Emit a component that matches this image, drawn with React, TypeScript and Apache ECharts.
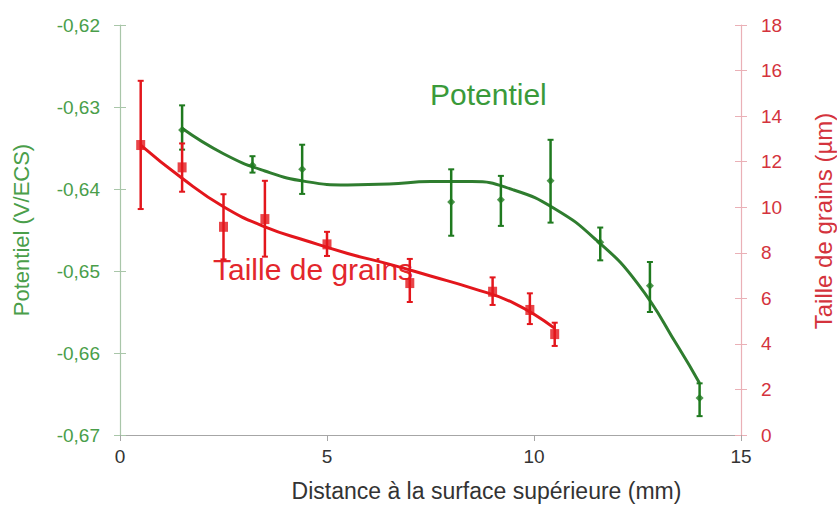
import React, { useEffect, useRef } from "react";
import * as echarts from "echarts";

// Potential (V/ECS) measurements: x (mm), value, low, high
const potX = [1.5, 3.2, 4.4, 8.0, 9.2, 10.4, 11.6, 12.8, 14.0];
const potVal = [-0.6328, -0.6371, -0.6376, -0.6416, -0.6413, -0.639, -0.6465, -0.6518, -0.6655];
const potLow = [-0.6352, -0.638, -0.6406, -0.6457, -0.6445, -0.6441, -0.6487, -0.655, -0.6677];
const potHigh = [-0.6298, -0.636, -0.6346, -0.6376, -0.6384, -0.634, -0.6447, -0.6489, -0.6637];

// Potential trend curve
const potFitX = [1.5, 2.5, 3.5, 4.5, 5.5, 6.5, 7.5, 8.5, 9.5, 10.5, 11.5, 12.5, 13.5, 14.0];
const potFitY = [-0.6326, -0.6357, -0.6378, -0.6391, -0.6395, -0.6394, -0.6391, -0.6391, -0.6401, -0.6424, -0.6462, -0.6515, -0.6594, -0.6637];

// Grain size (µm) measurements
const grainX = [0.5, 1.5, 2.5, 3.5, 5.0, 7.0, 9.0, 9.9, 10.5];
const grainVal = [12.73, 11.75, 9.14, 9.48, 8.37, 6.67, 6.29, 5.49, 4.43];
const grainLow = [9.92, 10.68, 7.71, 7.83, 7.86, 5.84, 5.71, 4.87, 3.91];
const grainHigh = [15.55, 12.8, 10.57, 11.16, 8.92, 7.73, 6.92, 6.22, 4.93];

// Grain size trend curve
const grainFitX = [0.5, 1.5, 2.5, 3.5, 4.5, 5.5, 6.5, 7.5, 8.5, 9.5, 10.5];
const grainFitY = [12.73, 11.27, 10.02, 9.14, 8.53, 7.97, 7.5, 6.98, 6.45, 5.8, 4.68];

// Axis ticks
const xTicks = { min: 0, max: 15, interval: 5 };
const leftTicks = { min: -0.67, max: -0.62, interval: 0.01 };
const rightTicks = { min: 0, max: 18, interval: 2 };

const FONT = "'Liberation Sans', Arial, sans-serif";
const GREEN = "#2f7d2f";
const GREEN_LABEL = "#4a9e4a";
const RED = "#e3161c";
const RED_LABEL = "#d4333d";

function errorBarRender(color: string) {
  return (params: any, api: any) => {
    const x = api.value(0);
    const lo = api.value(1);
    const hi = api.value(2);
    const pHi = api.coord([x, hi]);
    const pLo = api.coord([x, lo]);
    const cap = 3;
    const st = { stroke: color, lineWidth: 2.5 };
    return {
      type: "group",
      children: [
        { type: "line", shape: { x1: pHi[0], y1: pHi[1], x2: pLo[0], y2: pLo[1] }, style: st },
        { type: "line", shape: { x1: pHi[0] - cap, y1: pHi[1], x2: pHi[0] + cap, y2: pHi[1] }, style: { stroke: color, lineWidth: 2 } },
        { type: "line", shape: { x1: pLo[0] - cap, y1: pLo[1], x2: pLo[0] + cap, y2: pLo[1] }, style: { stroke: color, lineWidth: 2 } },
      ],
    };
  };
}

export default function App() {
  const ref = useRef<HTMLDivElement>(null);
  useEffect(() => {
    if (!ref.current) return;
    const chart = echarts.init(ref.current, null, { renderer: "svg" });
    const fmt = (v: number) => v.toFixed(2).replace(".", ",");
    const option: any = {
      animation: false,
      backgroundColor: "#ffffff",
      textStyle: { fontFamily: FONT },
      grid: { left: 120, right: 96, top: 25, bottom: 70, containLabel: false, outerBoundsMode: "none" },
      xAxis: {
        type: "value",
        min: xTicks.min,
        max: xTicks.max,
        interval: xTicks.interval,
        name: "Distance à la surface supérieure (mm)",
        nameLocation: "middle",
        nameGap: 44,
        nameTextStyle: { fontSize: 23, color: "#333333", fontFamily: FONT, padding: [0, 0, 0, 112] },
        axisLine: { show: true, lineStyle: { color: "#a6a6a6", width: 1.2 } },
        axisTick: { show: true, length: 6, lineStyle: { color: "#a6a6a6" } },
        axisLabel: { fontSize: 19, color: "#333333", margin: 12, fontFamily: FONT },
        splitLine: { show: false },
      },
      yAxis: [
        {
          type: "value",
          position: "left",
          min: leftTicks.min,
          max: leftTicks.max,
          interval: leftTicks.interval,
          name: "Potentiel (V/ECS)",
          nameLocation: "middle",
          nameGap: 88,
          nameRotate: 90,
          nameTextStyle: { fontSize: 22, color: GREEN_LABEL, fontFamily: FONT },
          axisLine: { show: true, lineStyle: { color: "#a9c6a9", width: 1.2 } },
          axisTick: { show: true, length: 6, lineStyle: { color: "#a9c6a9" } },
          axisLabel: { fontSize: 19, color: GREEN_LABEL, margin: 20, formatter: fmt, fontFamily: FONT },
          splitLine: { show: false },
        },
        {
          type: "value",
          position: "right",
          min: rightTicks.min,
          max: rightTicks.max,
          interval: rightTicks.interval,
          name: "Taille de grains (µm)",
          nameLocation: "middle",
          nameGap: 70,
          nameRotate: 90,
          nameTextStyle: { fontSize: 24, color: RED_LABEL, fontFamily: FONT, padding: [0, 0, 0, 18] },
          axisLine: { show: true, lineStyle: { color: "#eab0b6", width: 1.2 } },
          axisTick: { show: true, length: 6, lineStyle: { color: "#eab0b6" } },
          axisLabel: { fontSize: 19, color: RED_LABEL, margin: 20, fontFamily: FONT },
          splitLine: { show: false },
        },
        {
          type: "value",
          position: "left",
          min: leftTicks.min,
          max: leftTicks.max,
          interval: leftTicks.interval,
          axisLine: { show: false },
          axisTick: { show: true, inside: true, length: 6, lineStyle: { color: "#a9c6a9" } },
          axisLabel: { show: false },
          splitLine: { show: false },
        },
        {
          type: "value",
          position: "right",
          min: rightTicks.min,
          max: rightTicks.max,
          interval: rightTicks.interval,
          axisLine: { show: false },
          axisTick: { show: true, inside: true, length: 6, lineStyle: { color: "#eab0b6" } },
          axisLabel: { show: false },
          splitLine: { show: false },
        },
      ],
      graphic: [
        {
          type: "text",
          left: 430,
          top: 79,
          style: { text: "Potentiel", fontSize: 30, fill: "#3a9a3a", fontFamily: FONT },
        },
        {
          type: "text",
          left: 213,
          top: 254,
          style: { text: "Taille de grains", fontSize: 30, fill: "#e3262c", fontFamily: FONT },
        },
      ],
      series: [
        {
          type: "line",
          name: "fitPot",
          yAxisIndex: 0,
          data: potFitX.map((x, i) => [x, potFitY[i]]),
          smooth: 0.5,
          showSymbol: false,
          symbol: "none",
          lineStyle: { color: GREEN, width: 3 },
          z: 2,
        },
        {
          type: "line",
          name: "fitGrain",
          yAxisIndex: 1,
          data: grainFitX.map((x, i) => [x, grainFitY[i]]),
          smooth: 0.5,
          showSymbol: false,
          symbol: "none",
          lineStyle: { color: RED, width: 3 },
          z: 2,
        },
        {
          type: "custom",
          yAxisIndex: 0,
          renderItem: errorBarRender("#1f7a1f"),
          data: potX.map((x, i) => [x, potLow[i], potHigh[i]]),
          z: 3,
        },
        {
          type: "custom",
          yAxisIndex: 1,
          renderItem: errorBarRender(RED),
          data: grainX.map((x, i) => [x, grainLow[i], grainHigh[i]]),
          z: 3,
        },
        {
          type: "scatter",
          yAxisIndex: 0,
          data: potX.map((x, i) => [x, potVal[i]]),
          symbol: "diamond",
          symbolSize: 8,
          itemStyle: { color: "#1f7a1f" },
          z: 4,
        },
        {
          type: "scatter",
          yAxisIndex: 1,
          data: grainX.map((x, i) => [x, grainVal[i]]),
          symbol: "rect",
          symbolSize: [9, 10],
          itemStyle: { color: RED },
          z: 4,
        },
      ],
    };
    chart.setOption(option);
    return () => chart.dispose();
  }, []);
  return (
    <div
      ref={ref}
      style={{ position: "fixed", left: 0, top: 0, width: 837, height: 505, background: "#fff" }}
    />
  );
}
